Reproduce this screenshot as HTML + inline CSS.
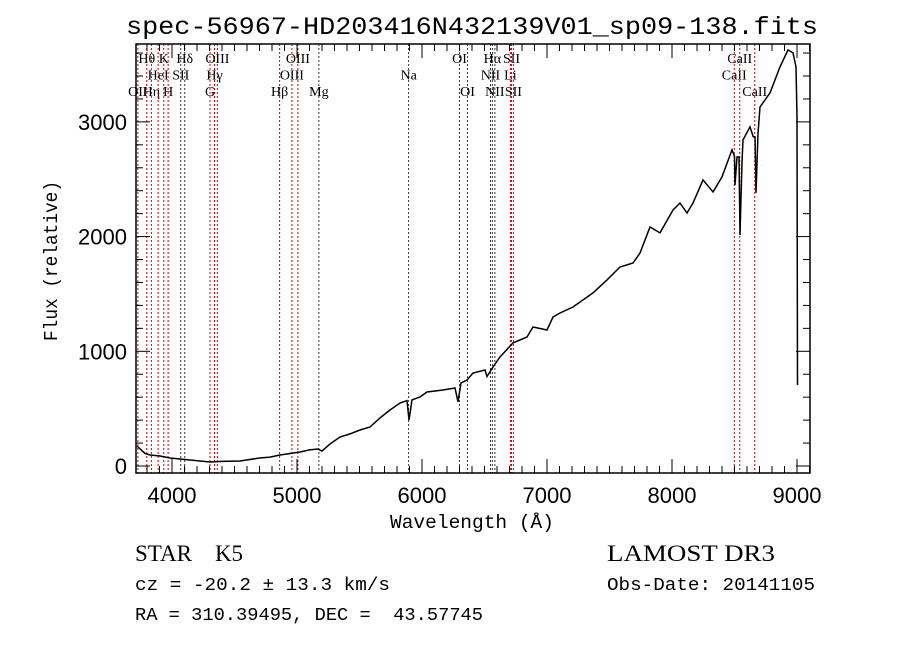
<!DOCTYPE html>
<html><head><meta charset="utf-8"><style>
body{margin:0;background:#fff;}
svg{display:block;}
.t{font-family:"Liberation Sans",sans-serif;}
.m{font-family:"Liberation Mono",monospace;}
.s{font-family:"Liberation Serif",serif;}
</style></head><body>
<svg id="chart" width="900" height="649" viewBox="0 0 900 649">
<rect width="900" height="649" fill="#fff"/>
<text x="126" y="34" textLength="692" lengthAdjust="spacingAndGlyphs" class="m" font-size="25">spec-56967-HD203416N432139V01_sp09-138.fits</text>
<g id="lines"></g>
<g id="ticks"></g>
<path id="spec" fill="none" stroke="#000" stroke-width="1.5"/>
<rect x="136" y="44" width="674" height="429" fill="none" stroke="#000" stroke-width="1.5"/>
<text x="390" y="528" textLength="164" lengthAdjust="spacingAndGlyphs" class="m" font-size="19">Wavelength (Å)</text>
<text transform="translate(57,341) rotate(-90)" textLength="160" lengthAdjust="spacingAndGlyphs" class="m" font-size="19">Flux (relative)</text>
<text x="135" y="561" class="s" font-size="23">STAR&#160;&#160;&#160;&#160;K5</text>
<text x="607" y="561" textLength="168" lengthAdjust="spacingAndGlyphs" class="s" font-size="23">LAMOST DR3</text>
<text x="135" y="590" textLength="255" lengthAdjust="spacingAndGlyphs" class="m" font-size="18">cz = -20.2 ± 13.3 km/s</text>
<text x="607" y="590" textLength="208" lengthAdjust="spacingAndGlyphs" class="m" font-size="18">Obs-Date: 20141105</text>
<text x="135" y="620" textLength="348" lengthAdjust="spacingAndGlyphs" class="m" font-size="18">RA = 310.39495, DEC =&#160; 43.57745</text>
</svg>
<script>
const wavelengths=[3720,3744,3784,3824,3904,3984,4064,4144,4224,4304,4400,4544,4700,4784,4864,4950,5024,5100,5168,5200,5264,5344,5424,5504,5584,5664,5744,5824,5880,5896,5920,5984,6040,6168,6264,6288,6312,6360,6408,6504,6520,6568,6624,6728,6840,6888,7000,7048,7104,7208,7368,7480,7584,7688,7744,7824,7904,8008,8064,8120,8168,8248,8328,8400,8480,8500,8504,8520,8536,8544,8560,8568,8624,8650,8664,8672,8688,8704,8784,8864,8928,8968,8992,9000,9004];
const fluxes=[174,150,110,96,87,70,61,52,44,35,40,44,70,78,96,110,122,140,148,130,192,253,280,314,340,419,488,549,570,400,576,602,645,663,680,560,724,750,811,837,780,863,950,1073,1125,1212,1186,1299,1334,1386,1509,1622,1735,1770,1857,2084,2032,2232,2293,2206,2293,2494,2389,2520,2756,2700,2450,2694,2694,2014,2650,2843,2956,2869,2869,2381,2900,3130,3253,3479,3628,3601,3479,3043,706];
const lineWaves=[3727,3798,3835,3889,3934,3969,4070,4102,4304,4340,4363,4861,4959,5007,5175,5893,6300,6364,6548,6563,6583,6707,6716,6731,8498,8542,8662];
const lineNames=["OII","Hθ","Hη","HeI","K","H","SII","Hδ","G","Hγ","OIII","Hβ","OIII","OIII","Mg","Na","OI","OI","NII","Hα","NII","Li","SII","SII","CaII","CaII","CaII"];
const lineRows=[2,0,2,1,0,2,1,0,2,1,0,2,1,0,2,1,0,2,1,0,2,1,0,2,1,0,2];
const lineRed=[1,1,1,1,1,1,0,0,1,1,1,1,1,1,0,0,1,1,0,0,0,1,1,1,1,1,1];
const xTicks=[4000,5000,6000,7000,8000,9000];
const yTicks=[0,1000,2000,3000];
const X0=3712,X1=9104,Y0=-61,Y1=3679,L=136,R=810,T=44,B=473;
const xs=v=>L+(v-X0)/(X1-X0)*(R-L);
const ys=v=>B-(v-Y0)/(Y1-Y0)*(B-T);
const NS="http://www.w3.org/2000/svg";
function mk(tag,attrs,parent){const e=document.createElementNS(NS,tag);for(const k in attrs)e.setAttribute(k,attrs[k]);parent.appendChild(e);return e;}
let d="";wavelengths.forEach((w,i)=>{d+=(i?"L":"M")+xs(w).toFixed(1)+","+ys(fluxes[i]).toFixed(1);});
document.getElementById("spec").setAttribute("d",d);
const lg=document.getElementById("lines");
lineWaves.forEach((w,i)=>{const x=xs(w);
 const ln=mk("line",{x1:x,x2:x,y1:T,y2:B,stroke:lineRed[i]?"#c00":"#333","stroke-width":1,"stroke-dasharray":"2,2"},lg);
 
 
 const t=mk("text",{x:x,y:63+lineRows[i]*16.5,"text-anchor":"middle","font-size":14,"font-family":"Liberation Serif,serif"},lg);
 t.textContent=lineNames[i];
 
 });
const tg=document.getElementById("ticks");
for(let v=3800;v<=9100;v+=100){const x=xs(v);const big=v%1000===0;const h=big?14:7;
 const a=mk("line",{x1:x,x2:x,y1:B,y2:B-h,stroke:"#000"},tg);
 const b=mk("line",{x1:x,x2:x,y1:T,y2:T+h,stroke:"#000"},tg);}
xTicks.forEach(v=>{const t=mk("text",{x:xs(v),y:B+30,"text-anchor":"middle","font-size":22,"font-family":"Liberation Sans,sans-serif"},tg);t.textContent=v;
 });
for(let v=0;v<=3600;v+=200){const y=ys(v);const big=v%1000===0;const h=big?14:7;
 const a=mk("line",{x1:L,x2:L+h,y1:y,y2:y,stroke:"#000"},tg);
 const b=mk("line",{x1:R,x2:R-h,y1:y,y2:y,stroke:"#000"},tg);}
yTicks.forEach(v=>{const t=mk("text",{x:127,y:ys(v)+8,"text-anchor":"end","font-size":22,"font-family":"Liberation Sans,sans-serif"},tg);t.textContent=v;
 });
</script>
</body></html>
